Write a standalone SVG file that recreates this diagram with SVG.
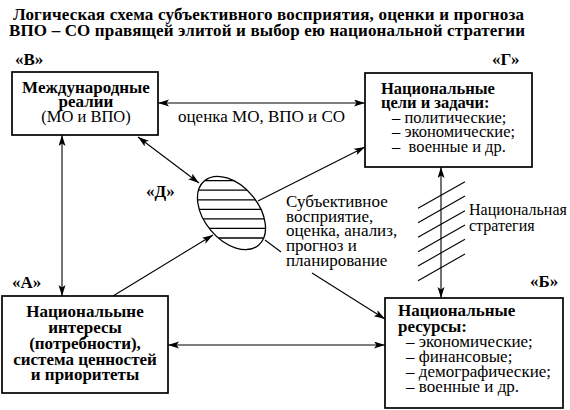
<svg xmlns="http://www.w3.org/2000/svg" width="570" height="410" viewBox="0 0 570 410">
<defs>
<marker id="ah" markerUnits="userSpaceOnUse" markerWidth="12" markerHeight="8" refX="11" refY="3.5" orient="auto-start-reverse">
<path d="M0,0 L11,3.5 L0,7 L2.5,3.5 Z" fill="#000"/>
</marker>
<clipPath id="ellclip">
<ellipse cx="231.5" cy="213" rx="42" ry="27" transform="rotate(50 231.5 213)"/>
</clipPath>
<style>
text{font-family:"Liberation Serif","Times New Roman",serif;font-size:17px;fill:#000}
.b{font-weight:bold}
.t{font-weight:bold;font-size:17px}
.g{font-size:16.5px}
.s{font-size:16px}
.box{fill:#fff;stroke:#000;stroke-width:1.7}
.ln{stroke:#000;stroke-width:1.1;fill:none}
.ar{stroke:#000;stroke-width:1.1;fill:none;marker-end:url(#ah)}
.ar2{stroke:#000;stroke-width:1.1;fill:none;marker-start:url(#ah);marker-end:url(#ah)}
.m{text-anchor:middle}
</style>
</defs>
<rect width="570" height="410" fill="#fff"/>
<g id="title">
<text class="t" x="13" y="20" textLength="511">Логическая схема субъективного восприятия, оценки и прогноза</text>
<text class="t" x="9" y="36" textLength="516">ВПО – СО правящей элитой и выбор ею национальной стратегии</text>
</g>
<g id="connectors">
<line class="ar2" x1="158" y1="103" x2="365" y2="103"/>
<line class="ar2" x1="168" y1="345" x2="385" y2="345"/>
<line class="ar2" x1="62" y1="135" x2="62" y2="296"/>
<line class="ar2" x1="441" y1="167" x2="441" y2="298"/>
<line class="ar2" x1="138" y1="137" x2="199" y2="183"/>
<line class="ar" x1="258" y1="201" x2="365" y2="147"/>
<line class="ar" x1="113" y1="296" x2="213" y2="235"/>
<line class="ln" x1="265" y1="240" x2="281" y2="252"/>
<line class="ar" x1="312" y1="273" x2="385" y2="319"/>
<g id="strategy-hatch" class="ln">
<line x1="418" y1="208.3" x2="465" y2="181.7"/>
<line x1="418" y1="222.7" x2="465" y2="196"/>
<line x1="418" y1="237.3" x2="465" y2="210.7"/>
<line x1="418" y1="251.7" x2="465" y2="225"/>
<line x1="418" y1="266" x2="465" y2="239.3"/>
<line x1="418" y1="280.7" x2="465" y2="254"/>
</g>
<text x="178" y="122">оценка МО, ВПО и СО</text>
<text class="s" x="469" y="215">Национальная</text>
<text class="s" x="469" y="231">стратегия</text>
</g>
<g id="nodeV">
<text class="b" x="15" y="65">«В»</text>
<rect class="box" x="12" y="72" width="146" height="63"/>
<text class="b m" x="86" y="93">Международные</text>
<text class="b m" x="86" y="107">реалии</text>
<text class="m g" x="86" y="122">(МО и ВПО)</text>
</g>
<g id="nodeG">
<text class="b" x="492" y="65">«Г»</text>
<rect class="box" x="365" y="73" width="167" height="94"/>
<text class="b g" x="381" y="93.5">Национальные</text>
<text class="b g" x="381" y="108">цели и задачи:</text>
<text class="g" x="392" y="123">– политические;</text>
<text class="g" x="392" y="137">– экономические;</text>
<text class="g" x="392" y="152" xml:space="preserve">–  военные и др.</text>
</g>
<g id="nodeA">
<text class="b" x="12" y="288">«А»</text>
<rect class="box" x="2" y="296" width="166" height="97"/>
<text class="b m" x="85" y="317">Национальыне</text>
<text class="b m" x="85" y="333">интересы</text>
<text class="b m" x="85" y="349">(потребности),</text>
<text class="b m" x="85" y="365">система ценностей</text>
<text class="b m" x="85" y="380">и приоритеты</text>
</g>
<g id="nodeB">
<text class="b" x="530" y="287">«Б»</text>
<rect class="box" x="385" y="298" width="178" height="110"/>
<text class="b" x="398" y="316">Национальные</text>
<text class="b" x="398" y="332">ресурсы:</text>
<text x="406" y="347">– экономические;</text>
<text x="406" y="362">– финансовые;</text>
<text x="406" y="377">– демографические;</text>
<text x="406" y="392">– военные и др.</text>
</g>
<g id="nodeD">
<text class="b" x="146" y="197">«Д»</text>
<ellipse cx="231.5" cy="213" rx="42" ry="27" transform="rotate(50 231.5 213)" fill="#fff" stroke="#000" stroke-width="1.3"/>
<g clip-path="url(#ellclip)" stroke="#000" stroke-width="1.3">
<line x1="180" y1="180.7" x2="290" y2="180.7"/>
<line x1="180" y1="190.2" x2="290" y2="190.2"/>
<line x1="180" y1="199.8" x2="290" y2="199.8"/>
<line x1="180" y1="209.3" x2="290" y2="209.3"/>
<line x1="180" y1="218.9" x2="290" y2="218.9"/>
<line x1="180" y1="228.4" x2="290" y2="228.4"/>
<line x1="180" y1="238" x2="290" y2="238"/>
</g>
<text x="286" y="207">Субъективное</text>
<text x="286" y="221.5">восприятие,</text>
<text x="286" y="236">оценка, анализ,</text>
<text x="286" y="250.5">прогноз и</text>
<text x="286" y="265.5">планирование</text>
</g>
</svg>
